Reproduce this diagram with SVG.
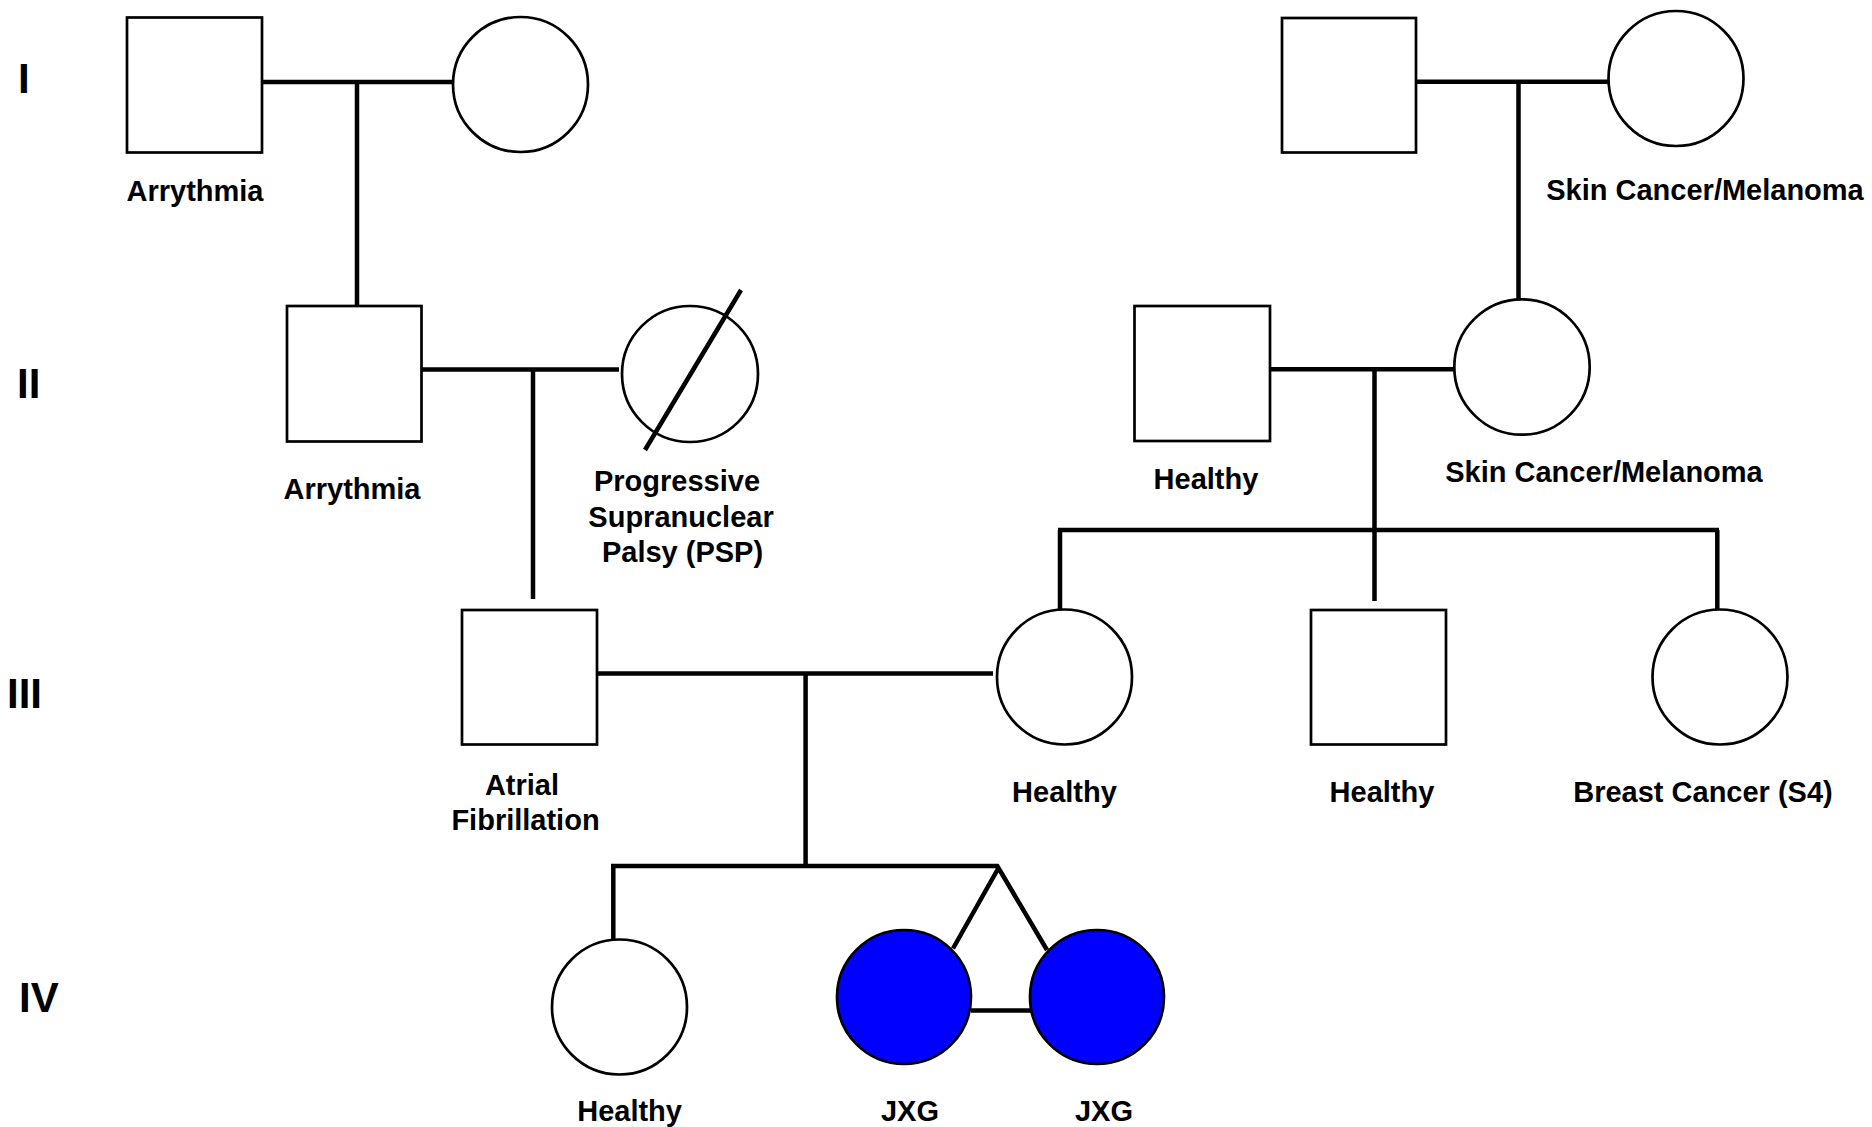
<svg xmlns="http://www.w3.org/2000/svg" width="1872" height="1127" viewBox="0 0 1872 1127">
<style>
.shape{fill:#fff;stroke:#000;stroke-width:2.7}
.aff{fill:#0000ff;stroke:#000;stroke-width:2.7}
.ln{fill:none;stroke:#000;stroke-width:4.5;stroke-linecap:butt}
.lbl{font-family:"Liberation Sans",Arial,sans-serif;font-weight:bold;font-size:29px;fill:#000;text-anchor:middle}
.gen{font-family:"Liberation Sans",Arial,sans-serif;font-weight:bold;font-size:42px;fill:#000}
</style>
<rect x="0" y="0" width="1872" height="1127" fill="#fff"/>
<g id="generations">
<text class="gen" x="18" y="93">I</text>
<text class="gen" x="17" y="398">II</text>
<text class="gen" x="7" y="708">III</text>
<text class="gen" x="19" y="1012">IV</text>
</g>
<g id="connectors">
<path class="ln" d="M262 82H453M357 82V306"/>
<path class="ln" d="M421 369.6H619M533 369.6V599"/>
<path class="ln" d="M1416 81.7H1609M1518.5 81.7V299"/>
<path class="ln" d="M1270 369.2H1460.5M1374.5 369.2V601"/>
<path class="ln" d="M1058 530H1719M1060 530V609.5M1717.3 530V609.5"/>
<path class="ln" d="M597 673.5H993M805.6 673.5V866"/>
<path class="ln" d="M611 866H998M613.3 866V939.5"/>
<path class="ln" d="M953 948.5L998.5 868L1047 950"/>
<path class="ln" d="M971 1010.5H1031"/>
</g>
<g id="I-1"><rect class="shape" x="127" y="17.5" width="135" height="135"/><text class="lbl" x="195" y="200.5">Arrythmia</text></g>
<g id="I-2"><circle class="shape" cx="520.5" cy="84.5" r="67.5"/></g>
<g id="I-3"><rect class="shape" x="1282" y="18" width="134" height="134.5"/></g>
<g id="I-4"><circle class="shape" cx="1676" cy="78.5" r="67.5"/><text class="lbl" x="1705" y="200">Skin Cancer/Melanoma</text></g>
<g id="II-1"><rect class="shape" x="287" y="306" width="134.5" height="135.5"/><text class="lbl" x="352" y="498.5">Arrythmia</text></g>
<g id="II-2"><circle class="shape" cx="690" cy="374" r="68"/><path class="ln" d="M645 450L741 290"/><text class="lbl" x="677" y="491">Progressive</text><text class="lbl" x="681" y="527">Supranuclear</text><text class="lbl" x="682.5" y="562">Palsy (PSP)</text></g>
<g id="II-3"><rect class="shape" x="1134.5" y="306" width="135.5" height="135"/><text class="lbl" x="1206" y="489">Healthy</text></g>
<g id="II-4"><circle class="shape" cx="1522" cy="367" r="67.7"/><text class="lbl" x="1604" y="481.5">Skin Cancer/Melanoma</text></g>
<g id="III-1"><rect class="shape" x="462" y="610" width="135" height="134.5"/><text class="lbl" x="522" y="794.5">Atrial</text><text class="lbl" x="525.5" y="829.5">Fibrillation</text></g>
<g id="III-2"><circle class="shape" cx="1064.5" cy="677" r="67.5"/><text class="lbl" x="1064.5" y="802">Healthy</text></g>
<g id="III-3"><rect class="shape" x="1311" y="610" width="135" height="134.5"/><text class="lbl" x="1382" y="802">Healthy</text></g>
<g id="III-4"><circle class="shape" cx="1720" cy="677" r="67.5"/><text class="lbl" x="1703" y="802">Breast Cancer (S4)</text></g>
<g id="IV-1"><circle class="shape" cx="619.5" cy="1007" r="67.5"/><text class="lbl" x="629.6" y="1120.5">Healthy</text></g>
<g id="IV-2"><circle class="aff" cx="904" cy="997" r="67"/><text class="lbl" x="910" y="1120.5">JXG</text></g>
<g id="IV-3"><circle class="aff" cx="1097" cy="997" r="67"/><text class="lbl" x="1104" y="1120.5">JXG</text></g>
</svg>
